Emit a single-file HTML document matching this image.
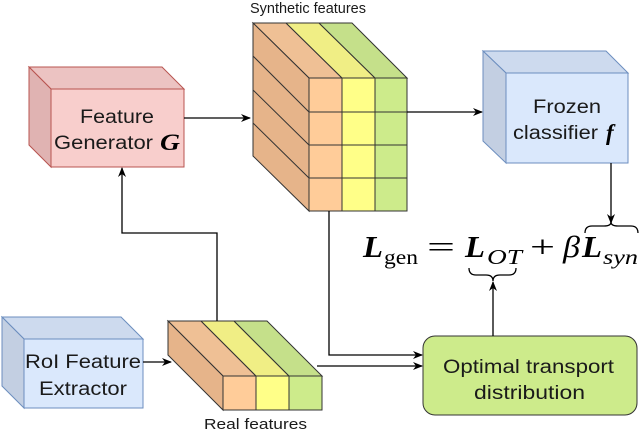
<!DOCTYPE html>
<html><head><meta charset="utf-8"><style>
html,body{margin:0;padding:0;background:#fff;}
svg{display:block;}
text{font-family:"Liberation Sans",sans-serif;fill:#1a1a1a;}
.m{font-family:"Liberation Serif",serif;font-style:italic;fill:#000;}
.r{font-family:"Liberation Serif",serif;fill:#000;}
</style></head><body>
<svg width="640" height="431" viewBox="0 0 640 431" xmlns="http://www.w3.org/2000/svg">
<defs><marker id="a" markerWidth="10" markerHeight="8" refX="9" refY="4" orient="auto" markerUnits="userSpaceOnUse"><path d="M0,0 L10,4 L0,8 L3,4 Z" fill="#000"/></marker></defs>

<!-- Feature Generator -->
<g stroke="#b85450" stroke-width="1">
<polygon points="29,67 162,67 184,89 51,89" fill="#ecc3c2"/>
<polygon points="29,67 51,89 51,167 29,145" fill="#e0b3b2"/>
<rect x="51" y="89" width="133" height="78" fill="#f8cecc"/>
</g>
<text x="80" y="123" font-size="19" textLength="74" lengthAdjust="spacingAndGlyphs">Feature</text>
<text x="54" y="149" font-size="19" textLength="99" lengthAdjust="spacingAndGlyphs">Generator</text>
<text x="160" y="150" font-size="23" class="m" font-weight="bold" textLength="20" lengthAdjust="spacingAndGlyphs">G</text>

<!-- Frozen classifier -->
<g stroke="#6c8ebf" stroke-width="1">
<polygon points="483,51 606,51 628,73 506,73" fill="#cddaee"/>
<polygon points="483,51 506,73 506,163 483,141" fill="#c3cfe2"/>
<rect x="506" y="73" width="122" height="90" fill="#dae8fc"/>
</g>
<text x="533" y="113" font-size="19" textLength="68" lengthAdjust="spacingAndGlyphs">Frozen</text>
<text x="513" y="139" font-size="19" textLength="85" lengthAdjust="spacingAndGlyphs">classifier</text>
<text x="606" y="140" font-size="23" class="m" font-weight="bold">f</text>

<!-- RoI -->
<g stroke="#6c8ebf" stroke-width="1">
<polygon points="2,317 121,317 143,339 24,339" fill="#cddaee"/>
<polygon points="2,317 24,339 24,408 2,386" fill="#c3cfe2"/>
<rect x="24" y="339" width="119" height="69" fill="#dae8fc"/>
</g>
<text x="25" y="368" font-size="19" textLength="116" lengthAdjust="spacingAndGlyphs">RoI Feature</text>
<text x="39" y="395" font-size="19" textLength="88" lengthAdjust="spacingAndGlyphs">Extractor</text>

<!-- Synthetic cube -->
<g stroke="#333" stroke-width="1">
<polygon points="253,23 286,23 342,78 309,78" fill="#efc095"/>
<polygon points="286,23 319,23 375,78 342,78" fill="#f0ee85"/>
<polygon points="319,23 352,23 407,78 375,78" fill="#c5e08a"/>
<polygon points="253,23 309,78 309,211 253,156" fill="#e6b48a"/>
<line x1="253" y1="56" x2="309" y2="112"/>
<line x1="253" y1="90" x2="309" y2="145"/>
<line x1="253" y1="123" x2="309" y2="178"/>
<rect x="309" y="78" width="33" height="133" fill="#ffcc99"/>
<rect x="342" y="78" width="33" height="133" fill="#ffff88"/>
<rect x="375" y="78" width="32" height="133" fill="#cdeb8b"/>
<line x1="309" y1="112" x2="407" y2="112"/>
<line x1="309" y1="145" x2="407" y2="145"/>
<line x1="309" y1="178" x2="407" y2="178"/>
</g>
<text x="250" y="13" font-size="15" textLength="116" lengthAdjust="spacingAndGlyphs">Synthetic features</text>

<!-- Real cube -->
<g stroke="#333" stroke-width="1">
<polygon points="168,321 201,321 256,376 223,376" fill="#efc095"/>
<polygon points="201,321 234,321 289,376 256,376" fill="#f0ee85"/>
<polygon points="234,321 267,321 322,376 289,376" fill="#c5e08a"/>
<polygon points="168,321 223,376 223,410 168,355" fill="#e6b48a"/>
<rect x="223" y="376" width="33" height="34" fill="#ffcc99"/>
<rect x="256" y="376" width="33" height="34" fill="#ffff88"/>
<rect x="289" y="376" width="33" height="34" fill="#cdeb8b"/>
</g>
<text x="204" y="429" font-size="15" textLength="103" lengthAdjust="spacingAndGlyphs">Real features</text>

<!-- OT box -->
<rect x="423" y="336" width="214" height="79" rx="12" fill="#cdeb8b" stroke="#333" stroke-width="1"/>
<text x="443" y="373" font-size="19" textLength="171" lengthAdjust="spacingAndGlyphs">Optimal transport</text>
<text x="474" y="399" font-size="19" textLength="111" lengthAdjust="spacingAndGlyphs">distribution</text>

<!-- connectors -->
<g stroke="#000" stroke-width="1.3" fill="none">
<line x1="184" y1="118" x2="250" y2="118" marker-end="url(#a)"/>
<line x1="407" y1="112" x2="482" y2="112" marker-end="url(#a)"/>
<line x1="611" y1="163" x2="611" y2="223" marker-end="url(#a)"/>
<polyline points="217,321 217,233 122,233 122,168" marker-end="url(#a)"/>
<line x1="143" y1="362" x2="171" y2="362" marker-end="url(#a)"/>
<polyline points="329,211 329,355 422,355" marker-end="url(#a)"/>
<line x1="317" y1="366" x2="422" y2="366" marker-end="url(#a)"/>
<line x1="493" y1="336" x2="493" y2="282" marker-end="url(#a)"/>
<path d="M585,233 Q585,226 592,226 L604,226 Q611,226 611,222 Q611,226 618,226 L631,226 Q638,226 638,233"/>
<path d="M469,268 Q469,275 476,275 L486,275 Q493,275 493,281 Q493,275 500,275 L509,275 Q516,275 516,268"/>
</g>

<!-- equation -->
<text x="363" y="257" font-size="31" class="m" font-weight="bold" textLength="20" lengthAdjust="spacingAndGlyphs">L</text>
<text x="384" y="264" font-size="21" class="r" textLength="34" lengthAdjust="spacingAndGlyphs">gen</text>
<text x="427" y="257" font-size="31" class="r" textLength="28" lengthAdjust="spacingAndGlyphs">=</text>
<text x="465" y="257" font-size="31" class="m" font-weight="bold" textLength="20" lengthAdjust="spacingAndGlyphs">L</text>
<text x="487" y="264" font-size="21" class="m" textLength="35" lengthAdjust="spacingAndGlyphs">OT</text>
<text x="530" y="257" font-size="31" class="r" textLength="25" lengthAdjust="spacingAndGlyphs">+</text>
<text x="563" y="257" font-size="31" class="m" textLength="17" lengthAdjust="spacingAndGlyphs">β</text>
<text x="582" y="257" font-size="31" class="m" font-weight="bold" textLength="20" lengthAdjust="spacingAndGlyphs">L</text>
<text x="603" y="264" font-size="21" class="m" textLength="35" lengthAdjust="spacingAndGlyphs">syn</text>
</svg>
</body></html>
